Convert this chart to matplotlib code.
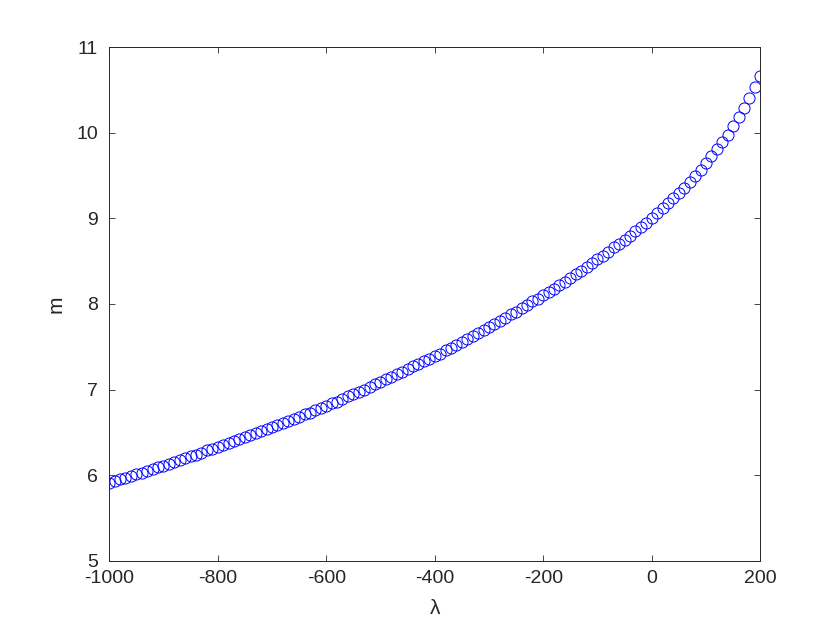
import matplotlib
matplotlib.use("Agg")
import matplotlib.pyplot as plt

# --------------------------------------------------
# DATA
# --------------------------------------------------
lam = list(range(-1000, 201, 10))

m = [
    5.91, 5.93, 5.95, 5.97, 5.99, 6.01, 6.03, 6.05, 6.07, 6.09,
    6.11, 6.13, 6.15, 6.18, 6.20, 6.22, 6.24, 6.26, 6.29, 6.31,
    6.33, 6.35, 6.37, 6.40, 6.42, 6.44, 6.47, 6.49, 6.51, 6.54,
    6.56, 6.58, 6.61, 6.63, 6.66, 6.68, 6.71, 6.73, 6.76, 6.78,
    6.81, 6.84, 6.86, 6.89, 6.92, 6.95, 6.97, 7.00, 7.03, 7.06,
    7.09, 7.12, 7.15, 7.18, 7.21, 7.24, 7.27, 7.30, 7.33, 7.36,
    7.39, 7.42, 7.46, 7.49, 7.52, 7.56, 7.59, 7.63, 7.66, 7.70,
    7.73, 7.77, 7.80, 7.84, 7.88, 7.91, 7.95, 7.99, 8.03, 8.06,
    8.10, 8.14, 8.18, 8.22, 8.26, 8.30, 8.35, 8.39, 8.43, 8.48,
    8.52, 8.56, 8.61, 8.66, 8.70, 8.75, 8.80, 8.85, 8.90, 8.95,
    9.01, 9.06, 9.12, 9.18, 9.24, 9.30, 9.36, 9.43, 9.50, 9.57,
    9.65, 9.73, 9.81, 9.89, 9.98, 10.08, 10.18, 10.29, 10.41, 10.53,
    10.665,
]

x_ticks = [-1000, -800, -600, -400, -200, 0, 200]
y_ticks = [5, 6, 7, 8, 9, 10, 11]

# --------------------------------------------------
# PLOT
# --------------------------------------------------
plt.rcParams["font.family"] = ["Liberation Sans", "DejaVu Sans"]
gray = "#262626"

fig = plt.figure(figsize=(8.4, 6.3), dpi=100)
ax = fig.add_axes([0.13, 0.11, 0.775, 0.815])

ax.plot(lam, m, "o", markerfacecolor="none", markeredgecolor="blue",
        markersize=8, markeredgewidth=0.7)

ax.set_xlim(-1000, 200)
ax.set_ylim(5, 11)
ax.set_xticks(x_ticks)
ax.set_yticks(y_ticks)
ax.set_xticklabels([str(v) for v in x_ticks])

ax.tick_params(direction="in", length=4.5, width=0.6, colors=gray,
               labelsize=14, top=True, right=True)
ax.tick_params(axis="x", pad=7)
ax.tick_params(axis="y", pad=8)
for s in ax.spines.values():
    s.set_color(gray)
    s.set_linewidth(0.7)

ax.set_xlabel("λ", fontsize=15, color=gray, labelpad=8)
ax.set_ylabel("m", fontsize=15, color=gray, labelpad=8)

fig.savefig("out.png", dpi=100)
plt.close(fig)
